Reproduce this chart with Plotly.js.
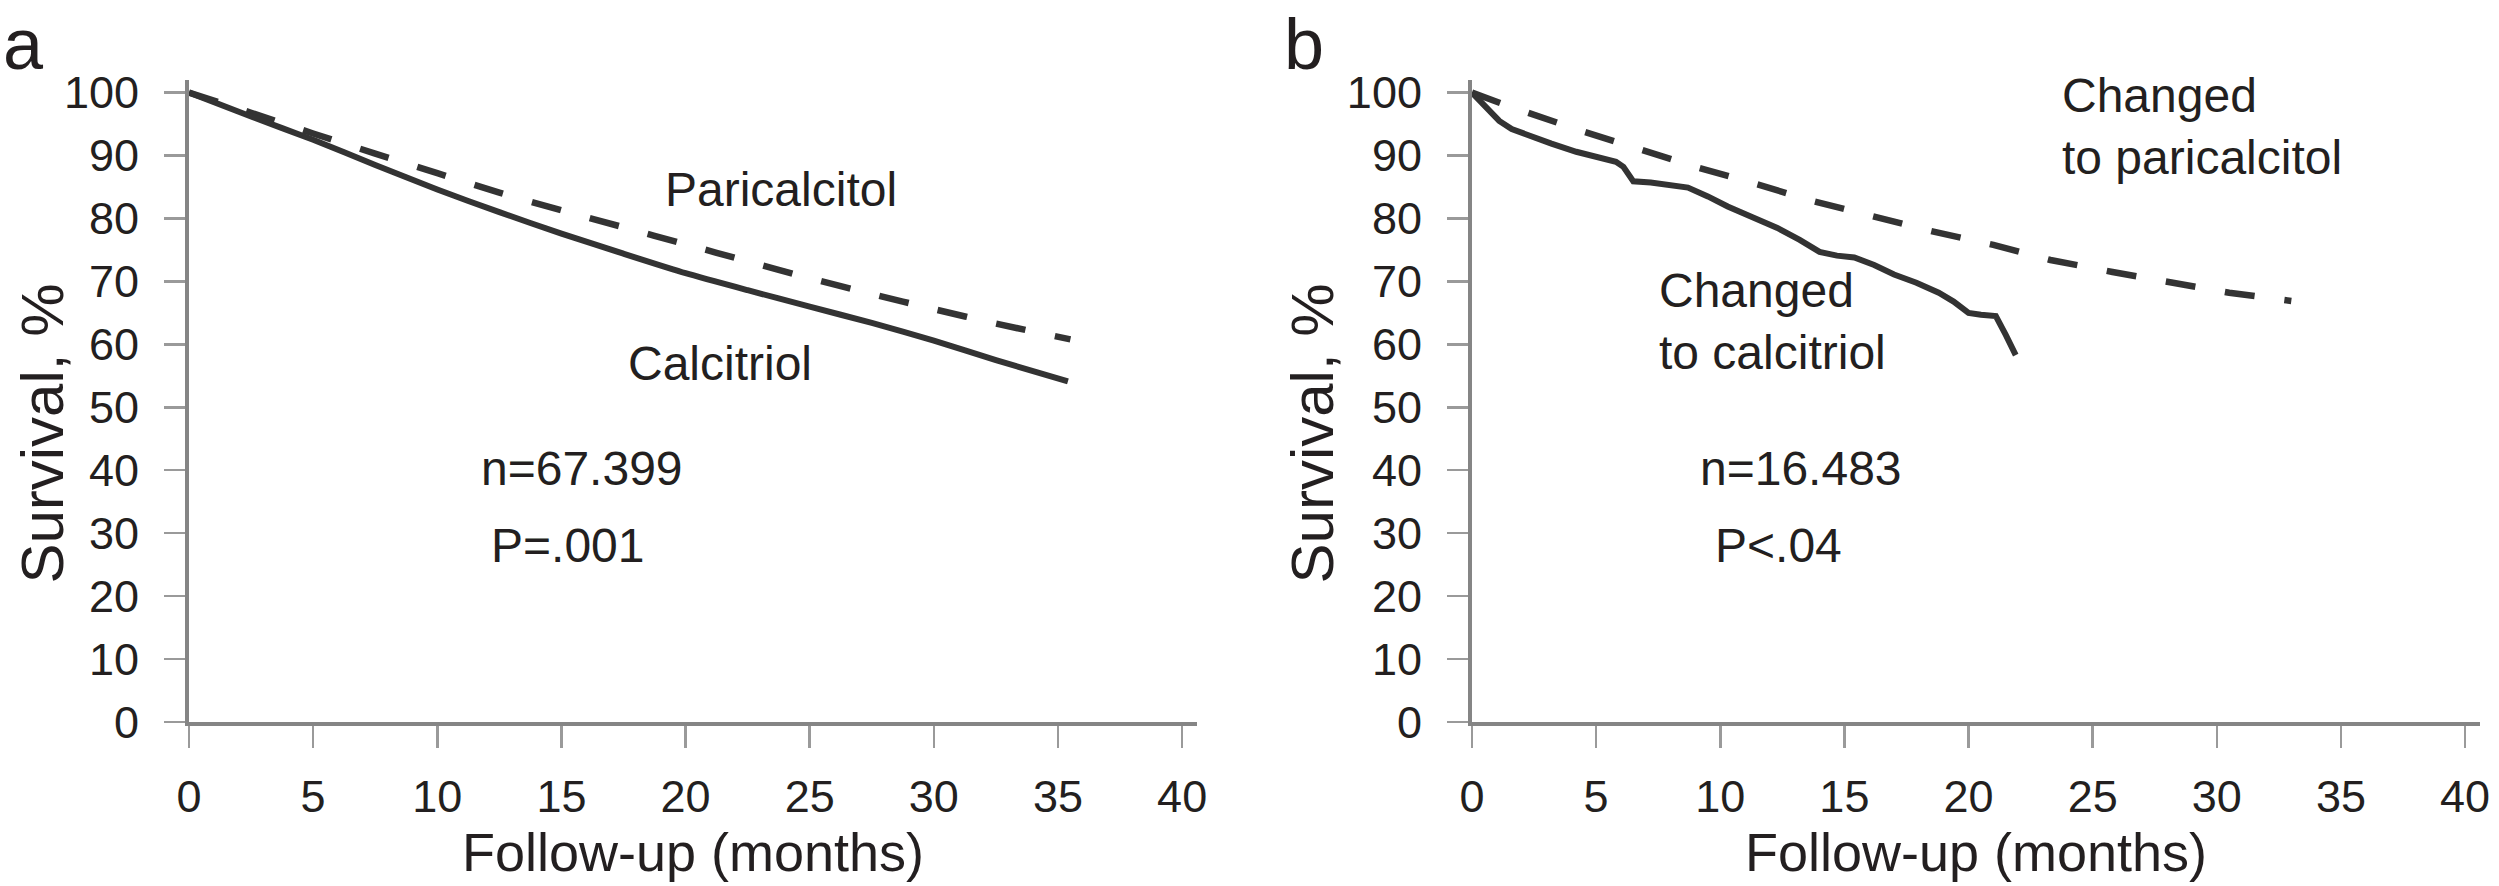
<!DOCTYPE html>
<html>
<head>
<meta charset="utf-8">
<script src="https://cdn.plot.ly/plotly-3.0.1.min.js"></script>
<style>html,body{margin:0;padding:0;background:#fff;}#chart{width:2499px;height:886px;}</style>
</head>
<body>
<div id="chart"></div>
<script>
// Panel a: overall cohort
const xA_calcitriol = [0, 2.5, 5, 7.5, 10, 12.5, 15, 17.5, 20, 22.5, 25, 27.5, 30, 32.5, 35.4];
const yA_calcitriol = [100, 96.2, 92.5, 88.5, 84.6, 81.0, 77.6, 74.4, 71.3, 68.6, 66.0, 63.4, 60.6, 57.5, 54.1];
const xA_paricalcitol = [0, 2.5, 5, 7.5, 10, 12.5, 15, 17.5, 20, 22.5, 25, 27.5, 30, 32.5, 35.5];
const yA_paricalcitol = [100, 96.8, 93.5, 90.3, 87.2, 84.1, 81.3, 78.6, 75.9, 73.2, 70.5, 68.0, 65.6, 63.3, 60.8];

// Panel b: switched patients
const xB_calcitriol = [0, 0.3, 0.7, 1.1, 1.6, 2.2, 3.2, 4.2, 5.0, 5.8, 6.1, 6.5, 7.2, 8.0, 8.7, 9.5, 10.3, 11.3, 12.3, 13.2, 14.0, 14.7, 15.4, 16.2, 17.0, 17.9, 18.8, 19.4, 20.0, 20.5, 21.1, 21.5, 21.9];
const yB_calcitriol = [100, 98.8, 97.0, 95.5, 94.2, 93.3, 91.9, 90.6, 89.8, 89.0, 88.2, 85.9, 85.7, 85.4, 84.9, 83.5, 81.9, 80.2, 78.5, 76.6, 74.7, 74.1, 73.8, 72.6, 71.1, 69.8, 68.2, 66.8, 65.0, 64.7, 64.5, 61.5, 58.3];
const xB_paricalcitol = [0, 1.65, 4.5, 6.8, 9.1, 11.5, 13.8, 16.2, 18.5, 21.0, 23.3, 25.8, 28.1, 30.5, 33.0];
const yB_paricalcitol = [100, 97.6, 93.8, 90.9, 88.1, 85.4, 82.7, 80.3, 78.0, 75.8, 73.4, 71.5, 69.8, 68.2, 66.9];

const xTicks = [0, 5, 10, 15, 20, 25, 30, 35, 40];
const yTicks = [0, 10, 20, 30, 40, 50, 60, 70, 80, 90, 100];
const xTitle = 'Follow-up (months)';
const yTitle = 'Survival, %';
const panelLabels = ['a', 'b'];

const FONT = 'Liberation Sans, Arial, Helvetica, sans-serif';
const TXT = '#231f20';
const LINE = '#333333';

const solid = {color: LINE, width: 6};
const dashed = {color: LINE, width: 6.5, dash: '30px,30px'};

const traces = [
  {x: xA_paricalcitol, y: yA_paricalcitol, type: 'scatter', mode: 'lines', line: Object.assign({shape: 'spline', smoothing: 0.6}, dashed), xaxis: 'x', yaxis: 'y', name: 'Paricalcitol'},
  {x: xA_calcitriol, y: yA_calcitriol, type: 'scatter', mode: 'lines', line: Object.assign({shape: 'spline', smoothing: 0.6}, solid), xaxis: 'x', yaxis: 'y', name: 'Calcitriol'},
  {x: xB_paricalcitol, y: yB_paricalcitol, type: 'scatter', mode: 'lines', line: dashed, xaxis: 'x2', yaxis: 'y2', name: 'Changed to paricalcitol'},
  {x: xB_calcitriol, y: yB_calcitriol, type: 'scatter', mode: 'lines', line: solid, xaxis: 'x2', yaxis: 'y2', name: 'Changed to calcitriol'}
];

function xAxis(domain, anchor) {
  return {
    domain: domain, anchor: anchor, range: [0, 40.6], tickvals: xTicks, ticktext: xTicks.map(String),
    showgrid: false, zeroline: false, showline: true, linecolor: '#858585', linewidth: 4,
    ticks: 'outside', ticklen: 22, tickwidth: 2.5, tickcolor: '#9a9a9a', ticklabelstandoff: 10,
    tickfont: {family: FONT, size: 45, color: TXT},
    title: {text: xTitle, font: {family: FONT, size: 54, color: TXT}, standoff: 8},
    fixedrange: true
  };
}
function yAxis(anchor) {
  return {
    domain: [0, 1], anchor: anchor, range: [0, 102], tickvals: yTicks, ticktext: yTicks.map(String),
    showgrid: false, zeroline: false, showline: true, linecolor: '#858585', linewidth: 4,
    ticks: 'outside', ticklen: 21, tickwidth: 2.5, tickcolor: '#9a9a9a', ticklabelstandoff: 16,
    tickfont: {family: FONT, size: 45, color: TXT},
    fixedrange: true
  };
}

const annFont = {family: FONT, size: 48, color: TXT};
function ann(text, x, y, xr, yr) {
  return {text: text, x: x, y: y, xref: xr, yref: yr, xanchor: 'left', yanchor: 'middle', showarrow: false, align: 'left', font: annFont};
}
function yTitleAnn(x) {
  return {text: yTitle, xref: 'paper', yref: 'paper', x: x, y: 0.449, xanchor: 'center', yanchor: 'middle', textangle: -90, showarrow: false, font: {family: FONT, size: 60, color: TXT}};
}
function panelAnn(text, x) {
  return {text: text, xref: 'paper', yref: 'paper', x: x, y: 1.122, xanchor: 'left', yanchor: 'top', showarrow: false, font: {family: FONT, size: 72, color: TXT}};
}

const layout = {
  width: 2499, height: 886,
  margin: {l: 189, r: 19, t: 80, b: 164},
  paper_bgcolor: '#ffffff', plot_bgcolor: '#ffffff',
  showlegend: false,
  xaxis: xAxis([0, 0.44], 'y'),
  yaxis: yAxis('x'),
  xaxis2: xAxis([0.56, 1], 'y2'),
  yaxis2: yAxis('x2'),
  annotations: [
    panelAnn(panelLabels[0], -0.082),
    panelAnn(panelLabels[1], 0.477),
    yTitleAnn(-0.0638),
    yTitleAnn(0.4905),
    ann('Paricalcitol', 19.1, 84.6, 'x', 'y'),
    ann('Calcitriol', 17.6, 57.0, 'x', 'y'),
    ann('n=67.399', 11.7, 40.2, 'x', 'y'),
    ann('P=.001', 12.1, 28.1, 'x', 'y'),
    ann('Changed<br>to calcitriol', 7.44, 63.6, 'x2', 'y2'),
    ann('Changed<br>to paricalcitol', 23.7, 94.6, 'x2', 'y2'),
    ann('n=16.483', 9.1, 40.2, 'x2', 'y2'),
    ann('P<.04', 9.7, 28.1, 'x2', 'y2')
  ]
};

Plotly.newPlot('chart', traces, layout, {displayModeBar: false, staticPlot: true});
</script>
</body>
</html>
